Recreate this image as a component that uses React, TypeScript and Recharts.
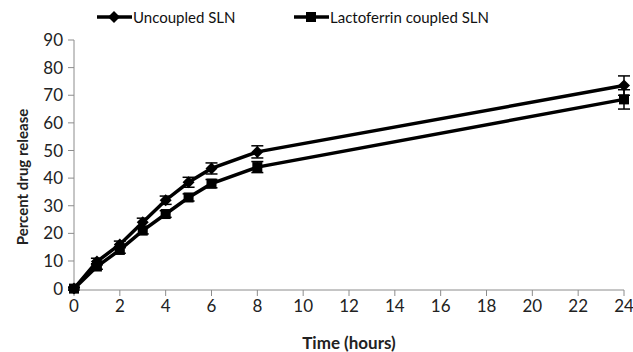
import {
    CartesianGrid,
    ErrorBar,
    Label,
    Line,
    LineChart,
    XAxis,
    YAxis,
} from 'recharts';

const hours = [0, 1, 2, 3, 4, 5, 6, 8, 24];
const uncoupled = [0, 9.8, 16, 24, 32, 38.5, 43.5, 49.5, 73.5];
const uncoupledErr = [0.5, 1.2, 1.2, 1.5, 1.5, 1.8, 2, 2.2, 3.5];
const lactoferrin = [0, 8, 14, 21, 27, 33, 38, 44, 68.5];
const lactoferrinErr = [0.5, 1, 1.2, 1.2, 1.2, 1.3, 1.5, 2, 3.5];
const xTicks = [0, 2, 4, 6, 8, 10, 12, 14, 16, 18, 20, 22, 24];
const yTicks = [0, 10, 20, 30, 40, 50, 60, 70, 80, 90];

const chartData = hours.map((h, i) => ({
    hour: h,
    uncoupled: uncoupled[i],
    uncoupledErr: uncoupledErr[i],
    lactoferrin: lactoferrin[i],
    lactoferrinErr: lactoferrinErr[i],
}));

const FONT = 'Lato, "Open Sans", sans-serif';
const AXIS = '#8c8c8c';

const Diamond = (props: any) => {
    const { cx, cy } = props;
    if (cx == null || cy == null) return null;
    return (
        <path
            d={`M${cx},${cy - 6} L${cx + 6},${cy} L${cx},${cy + 6} L${cx - 6},${cy} Z`}
            fill="#000"
        />
    );
};

const Square = (props: any) => {
    const { cx, cy } = props;
    if (cx == null || cy == null) return null;
    return <rect x={cx - 5} y={cy - 5} width={10} height={10} fill="#000" />;
};

const LegendItem = ({ shape, text }: { shape: 'diamond' | 'square'; text: string }) => (
    <div style={{ display: 'flex', alignItems: 'center' }}>
        <svg width={35} height={14}>
            <line x1={0} y1={7} x2={35} y2={7} stroke="#000" strokeWidth={3.5} />
            {shape === 'diamond' ? (
                <path d="M17,1 L23,7 L17,13 L11,7 Z" fill="#000" />
            ) : (
                <rect x={12} y={2} width={10} height={10} fill="#000" />
            )}
        </svg>
        <span style={{ fontSize: 15, marginLeft: 1, color: '#111' }}>{text}</span>
    </div>
);

export default function App() {
    return (
        <div
            style={{
                position: 'fixed',
                left: 0,
                top: 0,
                width: 633,
                height: 352,
                background: '#fff',
                fontFamily: FONT,
            }}
        >
            <div style={{ position: 'absolute', left: 97, top: 8 }}>
                <LegendItem shape="diamond" text="Uncoupled SLN" />
            </div>
            <div style={{ position: 'absolute', left: 294, top: 8 }}>
                <LegendItem shape="square" text="Lactoferrin coupled SLN" />
            </div>
            <LineChart
                width={633}
                height={352}
                data={chartData}
                margin={{ top: 40, right: 9, bottom: 0, left: 0 }}
            >
                <CartesianGrid horizontal={false} vertical={false} />
                <XAxis
                    type="number"
                    dataKey="hour"
                    domain={[0, 24]}
                    ticks={xTicks}
                    interval={0}
                    stroke={AXIS}
                    tickSize={6}
                    tickMargin={4}
                    tick={{ fontSize: 17, fill: '#222', fontFamily: FONT }}
                    height={62}
                >
                    <Label
                        value="Time (hours)"
                        position="insideBottom"
                        offset={3}
                        style={{ fontSize: 17, fontWeight: 'bold', fill: '#222', fontFamily: FONT }}
                    />
                </XAxis>
                <YAxis
                    type="number"
                    domain={[0, 90]}
                    ticks={yTicks}
                    interval={0}
                    stroke={AXIS}
                    tickSize={6}
                    tickMargin={5}
                    width={74}
                    tick={{ fontSize: 17, fill: '#222', fontFamily: FONT }}
                >
                    <Label
                        value="Percent drug release"
                        angle={-90}
                        position="insideLeft"
                        offset={20}
                        dx={3}
                        dy={12}
                        style={{
                            fontSize: 15,
                            fontWeight: 'bold',
                            fill: '#222',
                            fontFamily: FONT,
                            textAnchor: 'middle',
                        }}
                    />
                </YAxis>
                <Line
                    type="linear"
                    dataKey="lactoferrin"
                    stroke="#000"
                    strokeWidth={3.5}
                    dot={<Square />}
                    isAnimationActive={false}
                >
                    <ErrorBar dataKey="lactoferrinErr" width={6} stroke="#000" strokeWidth={1.5} direction="y" />
                </Line>
                <Line
                    type="linear"
                    dataKey="uncoupled"
                    stroke="#000"
                    strokeWidth={3.5}
                    dot={<Diamond />}
                    isAnimationActive={false}
                >
                    <ErrorBar dataKey="uncoupledErr" width={6} stroke="#000" strokeWidth={1.5} direction="y" />
                </Line>
            </LineChart>
        </div>
    );
}
